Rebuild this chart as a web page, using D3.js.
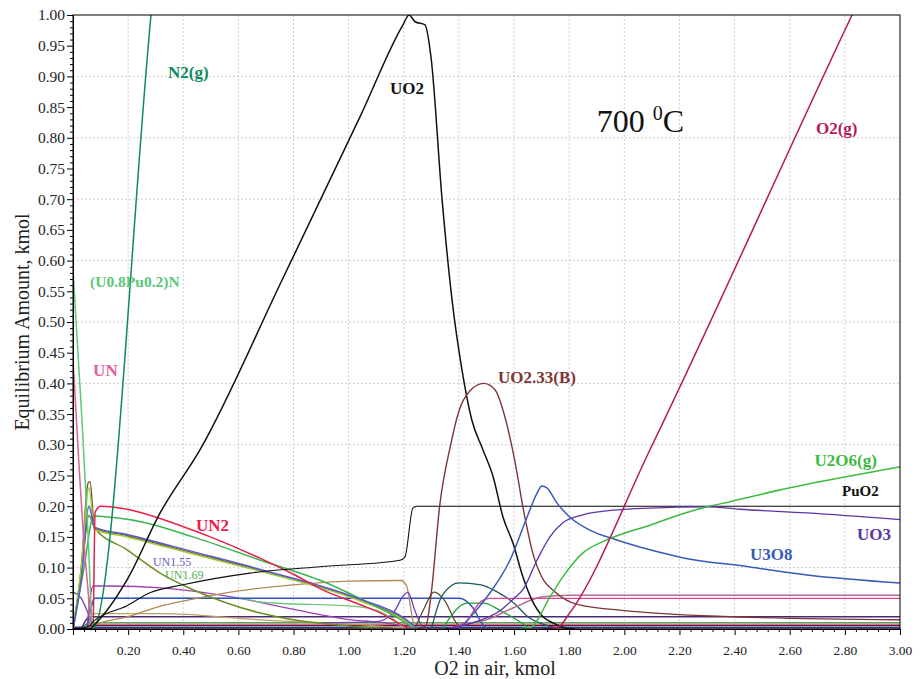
<!DOCTYPE html>
<html>
<head>
<meta charset="utf-8">
<script src="https://cdn.jsdelivr.net/npm/d3@7/dist/d3.min.js"></script>
<style>
  body { margin: 0; background: #fff; }
  svg { font-family: "Liberation Serif", "Times New Roman", serif; }
</style>
</head>
<body>
<div id="chart"></div>
<script>
// ---- data: [O2 in air (kmol), equilibrium amount (kmol)] ----
const n2g = [[0, 0], [0.06, 0], [0.075, 0.002], [0.283, 1.0], [0.3, 1.08]];
const uo2 = [[0, 0], [0.06, 0], [0.073, 0.005], [0.196, 0.08], [0.316, 0.189], [0.461, 0.292], [0.758, 0.568],
  [1.041, 0.834], [1.197, 0.984], [1.219, 1.0], [1.241, 0.989], [1.277, 0.984], [1.299, 0.93], [1.339, 0.699],
  [1.375, 0.536], [1.411, 0.422], [1.447, 0.34], [1.487, 0.292], [1.524, 0.248], [1.56, 0.182], [1.596, 0.14],
  [1.632, 0.085], [1.665, 0.047], [1.705, 0.02], [1.741, 0.01], [1.777, 0.003], [1.82, 0]];
const puo2 = [[0, 0], [0.06, 0.005], [0.073, 0.012], [0.196, 0.038], [0.279, 0.059], [0.399, 0.072], [0.642, 0.091],
  [0.885, 0.101], [1.186, 0.112], [1.204, 0.117], [1.233, 0.197], [1.248, 0.2], [3.0, 0.2]];
const o2g = [[1.70, 0], [1.76, 0.003], [1.80, 0.025], [2.093, 0.292], [2.826, 1.0], [2.9, 1.07]];
const uo233 = [[1.25, 0], [1.28, 0.005], [1.30, 0.06], [1.33, 0.2], [1.37, 0.30], [1.40, 0.355], [1.44, 0.388],
  [1.49, 0.40], [1.53, 0.39], [1.57, 0.34], [1.60, 0.28], [1.64, 0.18], [1.67, 0.12], [1.70, 0.085], [1.75, 0.06],
  [1.83, 0.04], [2.0, 0.03], [2.4, 0.02], [3.0, 0.015]];
const u3o8 = [[1.38, 0], [1.404, 0.003], [1.458, 0.028], [1.513, 0.059], [1.585, 0.112], [1.647, 0.182], [1.683, 0.221],
  [1.701, 0.233], [1.719, 0.23], [1.756, 0.205], [1.803, 0.182], [1.875, 0.161], [1.973, 0.145], [2.093, 0.129],
  [2.202, 0.117], [2.456, 0.101], [2.663, 0.088], [3.0, 0.075]];
const uo3 = [[1.35, 0], [1.45, 0.01], [1.55, 0.03], [1.60, 0.05], [1.632, 0.064], [1.683, 0.112], [1.73, 0.15],
  [1.777, 0.173], [1.85, 0.186], [1.973, 0.194], [2.093, 0.197], [2.30, 0.199], [2.42, 0.195], [2.663, 0.189], [3.0, 0.178]];
const u2o6g = [[1.60, 0], [1.66, 0.003], [1.73, 0.052], [1.777, 0.085], [1.85, 0.124], [1.92, 0.142], [2.0, 0.156],
  [2.093, 0.169], [2.20, 0.186], [2.30, 0.199], [2.38, 0.207], [2.60, 0.23], [2.78, 0.246], [3.0, 0.264]];
const un2 = [[0, 0], [0.065, 0], [0.073, 0.01], [0.08, 0.19], [0.10, 0.2], [0.196, 0.195], [0.316, 0.18],
  [0.44, 0.16], [0.498, 0.15], [0.68, 0.115], [0.796, 0.09], [0.914, 0.062], [1.04, 0.04], [1.12, 0.025],
  [1.186, 0.008], [1.22, 0]];
const unGreen = [[0, 0], [0.04, 0.1], [0.075, 0.184], [0.14, 0.182], [0.255, 0.174], [0.435, 0.15], [0.68, 0.112],
  [0.92, 0.075], [1.04, 0.05], [1.2, 0.012], [1.24, 0]];
const un155 = [[0, 0], [0.03, 0.08], [0.058, 0.2], [0.078, 0.166], [0.196, 0.154], [0.435, 0.126], [0.68, 0.097],
  [1.04, 0.049], [1.2, 0.018], [1.25, 0]];
const un169 = [[0, 0], [0.03, 0.1], [0.058, 0.23], [0.078, 0.162], [0.196, 0.15], [0.435, 0.122], [0.68, 0.094],
  [1.04, 0.046], [1.2, 0.015], [1.25, 0]];
const unBrown = [[0, 0], [0.03, 0.1], [0.055, 0.238], [0.062, 0.24], [0.078, 0.164], [0.196, 0.152], [0.435, 0.124],
  [0.68, 0.095], [1.04, 0.047], [1.2, 0.016], [1.25, 0]];
const unOlive = [[0, 0], [0.03, 0.09], [0.058, 0.185], [0.078, 0.165], [0.196, 0.129], [0.316, 0.091], [0.435, 0.064],
  [0.56, 0.042], [0.68, 0.026], [0.80, 0.015], [1.0, 0.005], [1.2, 0]];
const upun = [[0, 0.585], [0.03, 0.36], [0.055, 0.15], [0.068, 0.02], [0.075, 0], [3.0, 0]];
const un = [[0, 0.44], [0.005, 0.4], [0.04, 0.14], [0.055, 0.06], [0.065, 0], [3.0, 0]];
const tan1 = [[0.05, 0], [0.1, 0.01], [0.2, 0.02], [0.3, 0.035], [0.45, 0.05], [0.6, 0.062], [0.8, 0.072],
  [1.0, 0.078], [1.19, 0.079], [1.21, 0.07], [1.24, 0.003], [1.26, 0]];
const tan2 = [[0.05, 0], [0.073, 0.025], [0.32, 0.025], [0.68, 0.015], [1.04, 0.007], [1.2, 0.002], [1.3, 0]];
const purple1 = [[0.05, 0], [0.073, 0.07], [0.14, 0.07], [0.32, 0.067], [0.58, 0.052], [0.81, 0.031], [1.01, 0.015],
  [1.13, 0.01], [1.2, 0.005], [1.25, 0]];
const purple0 = [[0, 0.06], [0.03, 0.05], [0.06, 0.02], [0.08, 0]];
const purpleBump = [[0.9, 0.01], [1.1, 0.012], [1.16, 0.025], [1.2, 0.055], [1.215, 0.06], [1.24, 0.03],
  [1.27, 0.003], [1.3, 0]];
const blueFlat = [[0.05, 0], [0.08, 0.05], [1.40, 0.05], [1.45, 0.035], [1.49, 0.005], [1.51, 0]];
const lightGreen = [[0.05, 0], [0.08, 0.05], [0.6, 0.05], [0.68, 0.044], [1.04, 0.036], [1.15, 0.02], [1.2, 0.003], [1.22, 0]];
const oliveBump = [[1.24, 0], [1.27, 0.03], [1.31, 0.06], [1.35, 0.045], [1.39, 0.01], [1.42, 0]];
const tealBump = [[1.30, 0], [1.34, 0.055], [1.40, 0.075], [1.48, 0.072], [1.54, 0.06], [1.60, 0.042], [1.65, 0.02],
  [1.71, 0.007], [1.78, 0]];
const greenBump = [[1.34, 0], [1.43, 0.042], [1.49, 0.042], [1.55, 0.03], [1.61, 0.015], [1.66, 0]];
const pinkFlat = [[1.35, 0], [1.42, 0.01], [1.48, 0.045], [1.51, 0.05], [3.0, 0.05]];
const mauve = [[1.38, 0], [1.40, 0.005], [1.5, 0.015], [1.6, 0.035], [1.7, 0.052], [1.8, 0.055], [3.0, 0.055]];
const darkPurple = [[0.03, 0], [0.06, 0.02], [3.0, 0.02]];
const darkGreen = [[0.03, 0], [0.06, 0.01], [3.0, 0.01]];
const darkRed = [[0.05, 0.006], [3.0, 0.006]];
const navy = [[0.0, 0.003], [3.0, 0.003]];
const lightBlue = [[0.0, 0.0], [3.0, 0.0]];

const xTicks = [0.2, 0.4, 0.6, 0.8, 1.0, 1.2, 1.4, 1.6, 1.8, 2.0, 2.2, 2.4, 2.6, 2.8, 3.0];
const yTicks = d3.range(0, 21).map(i => i * 0.05);

// series table: array, colour, width
const series = [
  [lightBlue, "#4aa0d8", 2], [navy, "#2a3a8a", 1.5], [darkRed, "#800030", 1.5], [darkGreen, "#3a7a2a", 1.3],
  [darkPurple, "#4a2a70", 1.5], [tan2, "#c0a060", 1.3], [purple0, "#7040a0", 1.3], [purple1, "#a040b0", 1.3],
  [lightGreen, "#70c880", 1.3], [blueFlat, "#2f55c0", 1.5], [tan1, "#b08a55", 1.3], [purpleBump, "#6a40c0", 1.3],
  [oliveBump, "#5a5030", 1.3], [tealBump, "#1a5a5a", 1.3], [greenBump, "#20a040", 1.3], [mauve, "#b07090", 1.5],
  [pinkFlat, "#e040a0", 1.3], [unOlive, "#6b8e23", 1.5], [unBrown, "#7a5a30", 1.5], [un169, "#9ccc3c", 1.5],
  [unGreen, "#3cb44b", 1.5], [un155, "#5a5ac8", 1.5], [un2, "#e8204c", 1.5], [upun, "#5cc87a", 1.5],
  [un, "#e0609a", 1.5], [n2g, "#0d8a5e", 1.5], [puo2, "#111111", 1.1], [uo2, "#111111", 1.5],
  [uo233, "#7e3535", 1.4], [u3o8, "#3a5bb8", 1.5], [uo3, "#5a35a8", 1.3], [u2o6g, "#3dbb40", 1.5],
  [o2g, "#b5185c", 1.5]
];

const labels = [
  ["N2(g)", 0.345, 0.897, "#0d8a5e", 17], ["UO2", 1.15, 0.871, "#111", 17], ["O2(g)", 2.695, 0.806, "#b5185c", 17],
  ["(U0.8Pu0.2)N", 0.062, 0.557, "#5cc87a", 15.5], ["UN", 0.073, 0.412, "#e0609a", 17],
  ["UO2.33(B)", 1.542, 0.4, "#7e3535", 17], ["U2O6(g)", 2.69, 0.265, "#3dbb40", 17],
  ["PuO2", 2.79, 0.216, "#111", 15], ["UN2", 0.446, 0.159, "#e8204c", 17], ["UO3", 2.844, 0.145, "#5a35a8", 17],
  ["U3O8", 2.456, 0.112, "#3a5bb8", 17]
];

const W = 923, H = 679;
const margin = {top: 15, right: 23, bottom: 50, left: 73};
const width = W - margin.left - margin.right, height = H - margin.top - margin.bottom;

const svg = d3.select("#chart").append("svg").attr("width", W).attr("height", H);
const g = svg.append("g").attr("transform", "translate(" + margin.left + "," + margin.top + ")");

const x = d3.scaleLinear().domain([0, 3]).range([0, width]);
const y = d3.scaleLinear().domain([0, 1]).range([height, 0]);

// grid
g.append("g").selectAll("line").data(d3.range(1, 10).map(i => i * 0.1)).join("line")
  .attr("x1", 0).attr("x2", width).attr("y1", d => y(d)).attr("y2", d => y(d))
  .attr("stroke", "#cfcfcf").attr("stroke-dasharray", "2,2");
g.append("g").selectAll("line").data(xTicks.slice(0, -1)).join("line")
  .attr("y1", 0).attr("y2", height).attr("x1", d => x(d)).attr("x2", d => x(d))
  .attr("stroke", "#cfcfcf").attr("stroke-dasharray", "2,2");

// curves
g.append("clipPath").attr("id", "clip").append("rect").attr("width", width).attr("height", height + 1);
const line = d3.line().x(d => x(d[0])).y(d => y(d[1])).curve(d3.curveMonotoneX);
g.append("g").attr("clip-path", "url(#clip)").selectAll("path").data(series).join("path")
  .attr("d", d => line(d[0])).attr("fill", "none").attr("stroke", d => d[1]).attr("stroke-width", d => d[2])
  .attr("stroke-linejoin", "round");

// frame
g.append("rect").attr("width", width).attr("height", height).attr("fill", "none").attr("stroke", "#000").attr("stroke-width", 1);

// axes
const xMinor = d3.range(1, 75).map(i => i * 0.04).filter(v => Math.abs(v / 0.2 - Math.round(v / 0.2)) > 1e-6);
g.append("g").attr("transform", "translate(0," + height + ")")
  .call(d3.axisBottom(x).tickValues(xMinor).tickSize(3).tickFormat(""))
  .call(a => a.select(".domain").remove());
g.append("g").attr("transform", "translate(0," + height + ")")
  .call(d3.axisBottom(x).tickValues(xTicks).tickSize(6).tickPadding(10).tickFormat(d3.format(".2f")))
  .call(a => a.selectAll("text").attr("font-size", 13.5).attr("font-family", "Liberation Serif").attr("fill", "#222"))
  .call(a => a.select(".domain").attr("stroke", "#000"));

const yMinor = d3.range(1, 100).map(i => i * 0.01).filter(v => Math.abs(v / 0.05 - Math.round(v / 0.05)) > 1e-6);
g.append("g").call(d3.axisLeft(y).tickValues(yMinor).tickSize(3).tickFormat(""))
  .call(a => a.select(".domain").remove());
g.append("g").call(d3.axisLeft(y).tickValues(yTicks).tickSize(6).tickPadding(2).tickFormat(d3.format(".2f")))
  .call(a => a.selectAll("text").attr("font-size", 15.5).attr("font-family", "Liberation Serif").attr("fill", "#222"))
  .call(a => a.select(".domain").attr("stroke", "#000"));

// axis titles
svg.append("text").attr("x", 495).attr("y", 675).attr("text-anchor", "middle")
  .attr("font-size", 20).attr("fill", "#222").text("O2 in air, kmol");
svg.append("text").attr("transform", "translate(29," + (margin.top + height / 2) + ") rotate(-90)")
  .attr("text-anchor", "middle").attr("font-size", 20).attr("fill", "#222").text("Equilibrium Amount, kmol");

// curve labels
g.selectAll(".lbl").data(labels).join("text").attr("class", "lbl")
  .attr("x", d => x(d[1])).attr("y", d => y(d[2])).attr("fill", d => d[3])
  .attr("font-size", d => d[4]).attr("font-weight", "bold").text(d => d[0]);
g.append("text").attr("x", x(0.29)).attr("y", y(0.103)).attr("fill", "#6060c0").attr("font-size", 12).text("UN1.55");
g.append("text").attr("x", x(0.334)).attr("y", y(0.081)).attr("fill", "#50b050").attr("font-size", 12).text("UN1.69");

// temperature
const t = g.append("text").attr("x", x(1.9)).attr("y", y(0.81)).attr("font-size", 32).attr("fill", "#111");
t.append("tspan").text("700 ");
t.append("tspan").attr("font-size", 20).attr("dy", -12).text("0");
t.append("tspan").attr("dy", 12).text("C");
</script>
</body>
</html>
